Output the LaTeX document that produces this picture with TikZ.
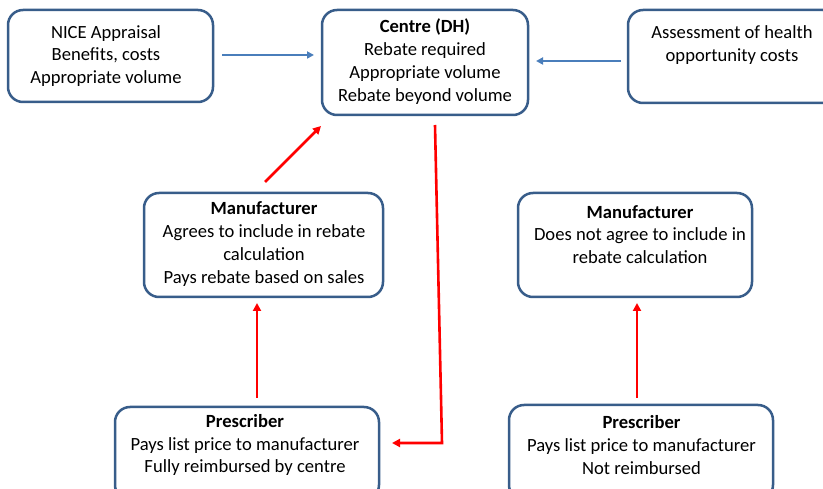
\documentclass[tikz,border=0pt]{standalone}
\usepackage{fontspec}
\setmainfont{Carlito}
\usetikzlibrary{arrows.meta}
\definecolor{boxline}{RGB}{56,93,138}
\definecolor{bluearr}{RGB}{74,126,187}
\definecolor{redarr}{RGB}{255,0,0}
\tikzset{
  box/.style={draw=boxline, line width=2.5pt, rounded corners=15pt, fill=white, inner sep=0pt},
  txt/.style={align=center, font=\fontsize{18.6pt}{22.8pt}\selectfont, inner sep=0pt},
  bluearrow/.style={draw=bluearr, line width=2.4pt, -{Triangle[length=7pt,width=7pt]}},
  redarrow/.style={draw=redarr, line width=2.6pt, -{Triangle[length=8pt,width=8pt]}}
}
\begin{document}
\begin{tikzpicture}[x=1pt,y=-1pt]
\useasboundingbox (0,0) rectangle (823,489);
\clip (0,0) rectangle (823,489);
% boxes
\node[box, minimum width=205pt, minimum height=92pt] (nice) at (110.5,56) {};
\node[box, minimum width=206pt, minimum height=105pt] (centre) at (425,62.5) {};
\node[box, minimum width=210pt, minimum height=93pt] (assess) at (733,56.5) {};
\node[box, minimum width=239pt, minimum height=104pt] (manL) at (263.5,245) {};
\node[box, minimum width=234pt, minimum height=104pt] (manR) at (635,245) {};
\node[box, minimum width=264pt, minimum height=93pt] (preL) at (247,453.5) {};
\node[box, minimum width=264pt, minimum height=95pt] (preR) at (641,452.5) {};
% texts
\node[txt] (niceT) at (106,56) {NICE Appraisal\\Benefits, costs\\Appropriate volume};
\node[txt] (centreT) at (425,61.5) {\textbf{Centre (DH)}\\Rebate required\\Appropriate volume\\Rebate beyond volume};
\node[txt] (assessT) at (732,45) {Assessment of health\\opportunity costs};
\node[txt] (manLT) at (264,244) {\textbf{Manufacturer}\\Agrees to include in rebate\\calculation\\Pays rebate based on sales};
\node[txt] (manRT) at (640,234.5) {\textbf{Manufacturer}\\Does not agree to include in\\rebate calculation};
\node[txt] (preLT) at (245,445) {\textbf{Prescriber}\\Pays list price to manufacturer\\Fully reimbursed by centre};
\node[txt] (preRT) at (641.5,445) {\textbf{Prescriber}\\Pays list price to manufacturer\\Not reimbursed};
% connector end points
\coordinate (a1s) at (222,55);  \coordinate (a1e) at (314,55);
\coordinate (a2s) at (621,61);  \coordinate (a2e) at (536,61);
\coordinate (r1s) at (265,182); \coordinate (r1e) at (321,126);
\coordinate (r2s) at (435,125); \coordinate (r2m) at (442,443); \coordinate (r2e) at (392,443);
\coordinate (r3s) at (257,398); \coordinate (r3e) at (257,303);
\coordinate (r4s) at (637,398); \coordinate (r4e) at (637,303);
% connectors
\draw[bluearrow] (a1s) -- (a1e);
\draw[bluearrow] (a2s) -- (a2e);
\draw[redarrow] (r1s) -- (r1e);
\draw[redarrow] (r2s) -- (r2m) -- (r2e);
\draw[redarrow] (r3s) -- (r3e);
\draw[redarrow] (r4s) -- (r4e);
\end{tikzpicture}
\end{document}
